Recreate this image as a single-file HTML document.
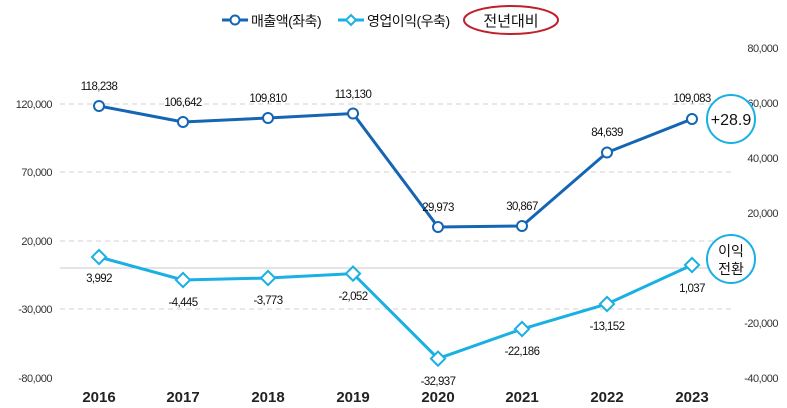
<!DOCTYPE html>
<html><head><meta charset="utf-8"><style>
html,body{margin:0;padding:0;background:#fff;}
svg{display:block;font-family:"Liberation Sans","Noto Sans CJK KR",sans-serif;}
</style></head><body>
<svg width="787" height="408" viewBox="0 0 787 408" xmlns="http://www.w3.org/2000/svg">
<!-- legend -->
<line x1="222" y1="20" x2="248" y2="20" stroke="#1565b5" stroke-width="3"/>
<circle cx="235" cy="20" r="4.5" fill="#fff" stroke="#1565b5" stroke-width="2"/>
<text x="251" y="26" font-size="14" fill="#111" letter-spacing="-0.5">매출액(좌축)</text>
<line x1="338" y1="20" x2="364" y2="20" stroke="#1ab0e3" stroke-width="3"/>
<rect x="347.5" y="16.5" width="7" height="7" fill="#fff" stroke="#1ab0e3" stroke-width="2" transform="rotate(45 351 20)"/>
<text x="367" y="26" font-size="14" fill="#111" letter-spacing="-0.5">영업이익(우축)</text>
<ellipse cx="511" cy="20" rx="47" ry="14" fill="none" stroke="#c0202a" stroke-width="2"/>
<text x="511" y="26" font-size="15" fill="#111" text-anchor="middle">전년대비</text>
<!-- gridlines -->
<g stroke="#d0d0d0" stroke-dasharray="5,4" stroke-width="1">
<line x1="60" y1="104" x2="735" y2="104"/>
<line x1="60" y1="172" x2="735" y2="172"/>
<line x1="60" y1="241" x2="735" y2="241"/>
<line x1="60" y1="309" x2="735" y2="309"/>
</g>
<line x1="60" y1="268" x2="735" y2="268" stroke="#c8c8c8" stroke-width="1"/>
<g font-size="11" fill="#333" text-anchor="end" letter-spacing="-0.5">
<text x="52" y="108">120,000</text>
<text x="52" y="176">70,000</text>
<text x="52" y="245">20,000</text>
<text x="52" y="313">-30,000</text>
<text x="52" y="382">-80,000</text>
</g>
<g font-size="11" fill="#333" text-anchor="end" letter-spacing="-0.5">
<text x="778" y="52">80,000</text>
<text x="778" y="107">60,000</text>
<text x="778" y="162">40,000</text>
<text x="778" y="217">20,000</text>
<text x="778" y="327">-20,000</text>
<text x="778" y="382">-40,000</text>
</g>
<g font-size="15" font-weight="bold" fill="#222" text-anchor="middle">
<text x="99" y="402">2016</text><text x="183" y="402">2017</text><text x="268" y="402">2018</text><text x="353" y="402">2019</text>
<text x="438" y="402">2020</text><text x="522" y="402">2021</text><text x="607" y="402">2022</text><text x="692" y="402">2023</text>
</g>
<polyline fill="none" stroke="#1565b5" stroke-width="3" points="99,106 183,122 268,118 353,113.5 438,227 522,226 607,152.5 692,119"/>
<g fill="#fff" stroke="#1565b5" stroke-width="2">
<circle cx="99" cy="106" r="5"/><circle cx="183" cy="122" r="5"/><circle cx="268" cy="118" r="5"/><circle cx="353" cy="113.5" r="5"/>
<circle cx="438" cy="227" r="5"/><circle cx="522" cy="226" r="5"/><circle cx="607" cy="152.5" r="5"/><circle cx="692" cy="119" r="5"/>
</g>
<g font-size="11.5" fill="#111" text-anchor="middle" letter-spacing="-0.6">
<text x="99" y="90">118,238</text><text x="183" y="106">106,642</text><text x="268" y="102">109,810</text><text x="353" y="98">113,130</text>
<text x="438" y="211">29,973</text><text x="522" y="210">30,867</text><text x="607" y="136">84,639</text><text x="692" y="102">109,083</text>
</g>
<polyline fill="none" stroke="#1ab0e3" stroke-width="3" points="99,257 183,280 268,278 353,273.6 438,358.6 522,329 607,304 692,265"/>
<g fill="#fff" stroke="#1ab0e3" stroke-width="2">
<rect x="94" y="252" width="10" height="10" transform="rotate(45 99 257)"/>
<rect x="178" y="275" width="10" height="10" transform="rotate(45 183 280)"/>
<rect x="263" y="273" width="10" height="10" transform="rotate(45 268 278)"/>
<rect x="348" y="268.6" width="10" height="10" transform="rotate(45 353 273.6)"/>
<rect x="433" y="353.6" width="10" height="10" transform="rotate(45 438 358.6)"/>
<rect x="517" y="324" width="10" height="10" transform="rotate(45 522 329)"/>
<rect x="602" y="299" width="10" height="10" transform="rotate(45 607 304)"/>
<rect x="687" y="260" width="10" height="10" transform="rotate(45 692 265)"/>
</g>
<g font-size="11.5" fill="#111" text-anchor="middle" letter-spacing="-0.6">
<text x="99" y="282">3,992</text><text x="183" y="306">-4,445</text><text x="268" y="304">-3,773</text><text x="353" y="300">-2,052</text>
<text x="438" y="385">-32,937</text><text x="522" y="355">-22,186</text><text x="607" y="330">-13,152</text><text x="692" y="292">1,037</text>
</g>
<circle cx="731" cy="119" r="24" fill="#fff" stroke="#1ab0e3" stroke-width="2"/>
<text x="731" y="125" font-size="16" fill="#111" text-anchor="middle">+28.9</text>
<circle cx="731" cy="259" r="24" fill="#fff" stroke="#1ab0e3" stroke-width="2"/>
<text x="731" y="256" font-size="14" fill="#111" text-anchor="middle">이익</text>
<text x="731" y="274" font-size="14" fill="#111" text-anchor="middle">전환</text>
</svg>
</body></html>
